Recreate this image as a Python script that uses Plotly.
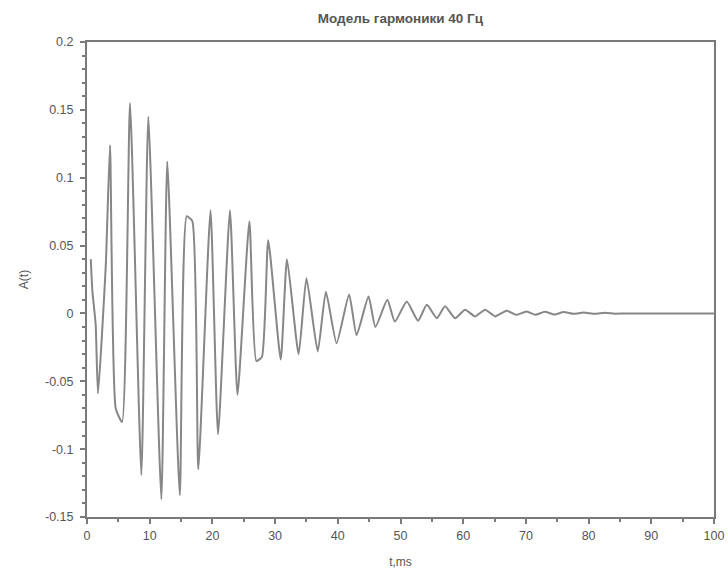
import plotly.graph_objects as go

# Turning points of the signal (t in ms, A(t))
t_ms = [0.6, 0.85, 1.38, 1.75, 3.0, 3.67, 4.58, 5.6, 6.86, 8.67, 9.78, 11.86, 12.8, 14.8,
        15.9, 16.8, 17.75, 19.7, 20.9, 22.8, 24.0, 25.9, 27.0, 27.9, 28.9, 30.9, 31.9,
        33.75, 35.0, 36.8, 38.1, 39.8, 41.8, 43.0, 44.9, 46.0, 47.9, 49.1, 51.0, 52.8,
        54.2, 55.8, 57.1, 58.7, 60.3, 61.9, 63.5, 65.1, 66.9, 68.5, 70.1, 71.5, 73.0,
        74.6, 76.0, 77.6, 79.2, 81.0, 82.6, 84.2, 86.0, 100.0]
amp = [0.040, 0.017, -0.008, -0.059, 0.036, 0.124, -0.070, -0.080, 0.155, -0.119, 0.145,
       -0.137, 0.112, -0.134, 0.0715, 0.068, -0.115, 0.076, -0.089, 0.076, -0.060, 0.068,
       -0.035, -0.032, 0.054, -0.034, 0.040, -0.030, 0.026, -0.028, 0.016, -0.022, 0.014,
       -0.016, 0.0125, -0.010, 0.010, -0.006, 0.0088, -0.0054, 0.0064, -0.0035, 0.0052,
       -0.0035, 0.0027, -0.0022, 0.0027, -0.0022, 0.002, -0.001, 0.0015, -0.001, 0.0012,
       -0.0008, 0.001, -0.0003, 0.0006, -0.0003, 0.0005, -0.0002, 0.0, 0.0]

y_tick_vals = [-0.15, -0.1, -0.05, 0, 0.05, 0.1, 0.15, 0.2]
y_tick_text = ["-0.15", "-0.1", "-0.05", "0", "0.05", "0.1", "0.15", "0.2"]
x_tick_vals = [0, 10, 20, 30, 40, 50, 60, 70, 80, 90, 100]

title_text = "<b>Модель гармоники 40 Гц</b>"
x_title = "t,ms"
y_title = "A(t)"

font_family = "Liberation Sans, Arial, sans-serif"
axis_color = "#7a7a7a"
text_color = "#555555"

fig = go.Figure()
fig.add_trace(go.Scatter(x=t_ms, y=amp, mode="lines",
                         line=dict(color="#878787", width=2, shape="spline", smoothing=0.5),
                         showlegend=False, hoverinfo="skip"))

fig.update_layout(
    width=728, height=570,
    margin=dict(l=87, r=14, t=42, b=53, autoexpand=False),
    paper_bgcolor="white", plot_bgcolor="white",
    font=dict(family=font_family, size=12, color=text_color),
    title=dict(text=title_text, x=0.55, xanchor="center", y=0.968, yanchor="middle",
               font=dict(size=13.5, color="#555555", family=font_family)),
    showlegend=False,
)

fig.update_xaxes(
    range=[0, 100], tickvals=x_tick_vals, showgrid=False, zeroline=False,
    automargin=False, ticklabeloverflow="allow",
    showline=True, linecolor=axis_color, linewidth=2, mirror=True,
    ticks="outside", ticklen=5, tickwidth=1.5, tickcolor=axis_color,
    minor=dict(dtick=5, ticks="outside", ticklen=3, tickcolor=axis_color, showgrid=False),
    tickfont=dict(size=12.5, color=text_color), ticklabelstandoff=1,
    title=dict(text=x_title, font=dict(size=12, color=text_color), standoff=16),
)
fig.update_yaxes(
    range=[-0.15, 0.2], tickvals=y_tick_vals, ticktext=y_tick_text,
    showgrid=False, zeroline=False,
    automargin=False, ticklabeloverflow="allow",
    showline=True, linecolor=axis_color, linewidth=2, mirror=True,
    ticks="outside", ticklen=5, tickwidth=1.5, tickcolor=axis_color,
    minor=dict(dtick=0.01, ticks="outside", ticklen=3, tickcolor=axis_color, showgrid=False),
    tickfont=dict(size=12.5, color=text_color), ticklabelstandoff=4,
    title=dict(text=y_title, font=dict(size=12, color=text_color), standoff=14),
)

fig.write_html("out.html")
